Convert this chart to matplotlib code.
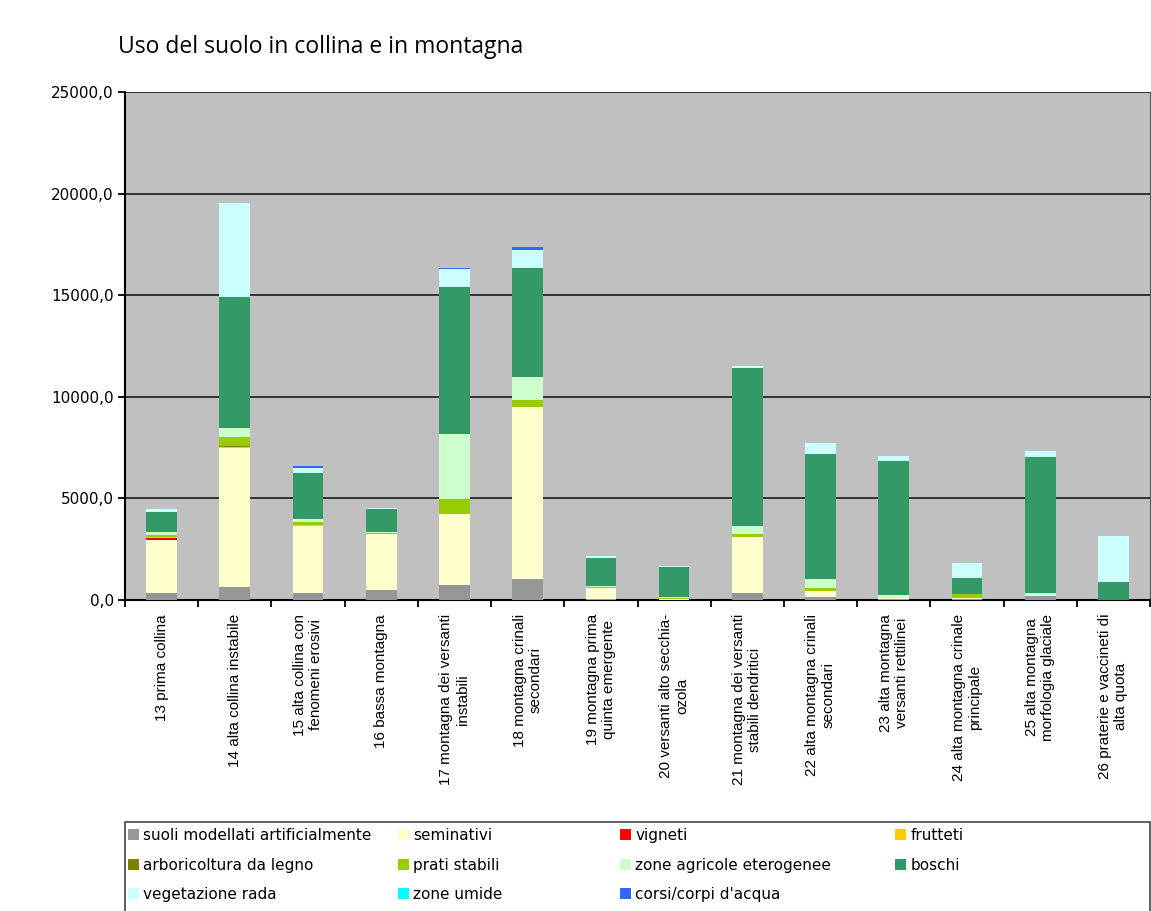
import numpy as np
import matplotlib
matplotlib.use('Agg')
import matplotlib.pyplot as plt
from matplotlib.patches import Patch, Rectangle

categories = [
    "13 prima collina",
    "14 alta collina instabile",
    "15 alta collina con\nfenomeni erosivi",
    "16 bassa montagna",
    "17 montagna dei versanti\ninstabili",
    "18 montagna crinali\nsecondari",
    "19 montagna prima\nquinta emergente",
    "20 versanti alto secchia-\nozola",
    "21 montagna dei versanti\nstabili dendritici",
    "22 alta montagna crinali\nsecondari",
    "23 alta montagna\nversanti rettilinei",
    "24 alta montagna crinale\nprincipale",
    "25 alta montagna\nmorfologia glaciale",
    "26 praterie e vaccineti di\nalta quota",
]

series_names = [
    "suoli modellati artificialmente", "seminativi", "vigneti", "frutteti",
    "arboricoltura da legno", "prati stabili", "zone agricole eterogenee", "boschi",
    "vegetazione rada", "zone umide", "corsi/corpi d'acqua",
]

suoli = [340, 625, 330, 490, 740, 1030, 40, 20, 360, 160, 60, 40, 200, 10]
seminativi = [2610, 6865, 3330, 2760, 3475, 8450, 535, 20, 2755, 300, 30, 40, 30, 0]
vigneti = [120, 0, 0, 0, 0, 0, 0, 0, 0, 0, 0, 0, 0, 0]
frutteti = [40, 60, 20, 10, 20, 20, 0, 0, 10, 0, 0, 0, 0, 0]
arboricoltura = [10, 20, 10, 10, 10, 10, 0, 0, 0, 0, 0, 0, 0, 0]
prati = [60, 465, 160, 30, 705, 330, 80, 70, 105, 145, 30, 200, 20, 0]
zone_agricole = [180, 415, 120, 40, 3200, 1130, 25, 20, 410, 425, 125, 20, 110, 10]
boschi = [950, 6440, 2260, 1160, 7250, 5380, 1400, 1510, 7760, 6140, 6595, 800, 6660, 880]
vegetazione = [170, 4625, 250, 30, 870, 870, 85, 50, 120, 570, 245, 700, 310, 2250]
zone_umide = [0, 0, 10, 0, 10, 10, 0, 0, 0, 0, 0, 0, 0, 0]
corsi = [10, 15, 100, 10, 50, 120, 0, 0, 20, 0, 0, 0, 0, 0]

values = [suoli, seminativi, vigneti, frutteti, arboricoltura, prati,
          zone_agricole, boschi, vegetazione, zone_umide, corsi]
colors = ['#969696', '#FFFFCC', '#FF0000', '#FFCC00', '#808000', '#99CC00',
          '#CCFFCC', '#339966', '#CCFFFF', '#00FFFF', '#3366FF']

yticks = [0, 5000, 10000, 15000, 20000, 25000]

fig = plt.figure(figsize=(11.51, 9.11), dpi=100)
ax = fig.add_axes([125 / 1151, 1 - 600 / 911, 1025 / 1151, 508 / 911])
ax.set_facecolor('#C0C0C0')

x = np.arange(len(categories))
bottom = np.zeros(len(categories))
for vals, col in zip(values, colors):
    ax.bar(x, vals, width=0.42, bottom=bottom, color=col, linewidth=0, zorder=3)
    bottom += np.array(vals)

ax.set_xlim(-0.5, len(categories) - 0.5)
ax.set_ylim(0, 25000)
ax.set_yticks(yticks)
ax.set_yticklabels([f"{v:.1f}".replace('.', ',') for v in yticks],
                   fontsize=11, family='DejaVu Sans')
ax.yaxis.grid(True, color='#1a1a1a', linewidth=1.2, zorder=1)
ax.tick_params(axis='y', length=5, width=1.3, pad=3, direction='out')

ax.set_xticks(x)
ax.set_xticklabels(categories, rotation=90, va='top', ha='center', ma='center',
                   fontsize=11, family='Liberation Sans')
ax.set_xticks(np.arange(len(categories) + 1) - 0.5, minor=True)
ax.tick_params(axis='x', which='major', length=0, pad=10)
ax.tick_params(axis='x', which='minor', length=5, width=1.3, direction='out')

ax.spines['left'].set_linewidth(1.5)
ax.spines['bottom'].set_linewidth(1.5)
ax.spines['top'].set_visible(False)
ax.spines['right'].set_color('#555555')

fig.text(118 / 1151, 1 - 47 / 911, "Uso del suolo in collina e in montagna",
         fontsize=16.5, family='Open Sans', va='center', ha='left')

# legend laid out row-wise like the original, one legend per column
handles = [Patch(facecolor=c, edgecolor='none') for c in colors]
col_x = [128, 398, 620, 895]
for ci in range(4):
    idx = list(range(ci, len(series_names), 4))
    fig.legend([handles[i] for i in idx], [series_names[i] for i in idx],
               loc='upper left', bbox_to_anchor=(col_x[ci] / 1151, 1 - 828 / 911),
               frameon=False, handlelength=0.75, handleheight=0.75,
               handletextpad=0.25, labelspacing=0.95, borderpad=0,
               borderaxespad=0, prop={'family': 'DejaVu Sans', 'size': 11})
fig.patches.append(Rectangle((125 / 1151, -0.01), 1025 / 1151, (911 - 822) / 911 + 0.01,
                             transform=fig.transFigure, fill=False,
                             edgecolor='#444444', linewidth=1.2))

fig.savefig('out.png', dpi=100, facecolor='white')
